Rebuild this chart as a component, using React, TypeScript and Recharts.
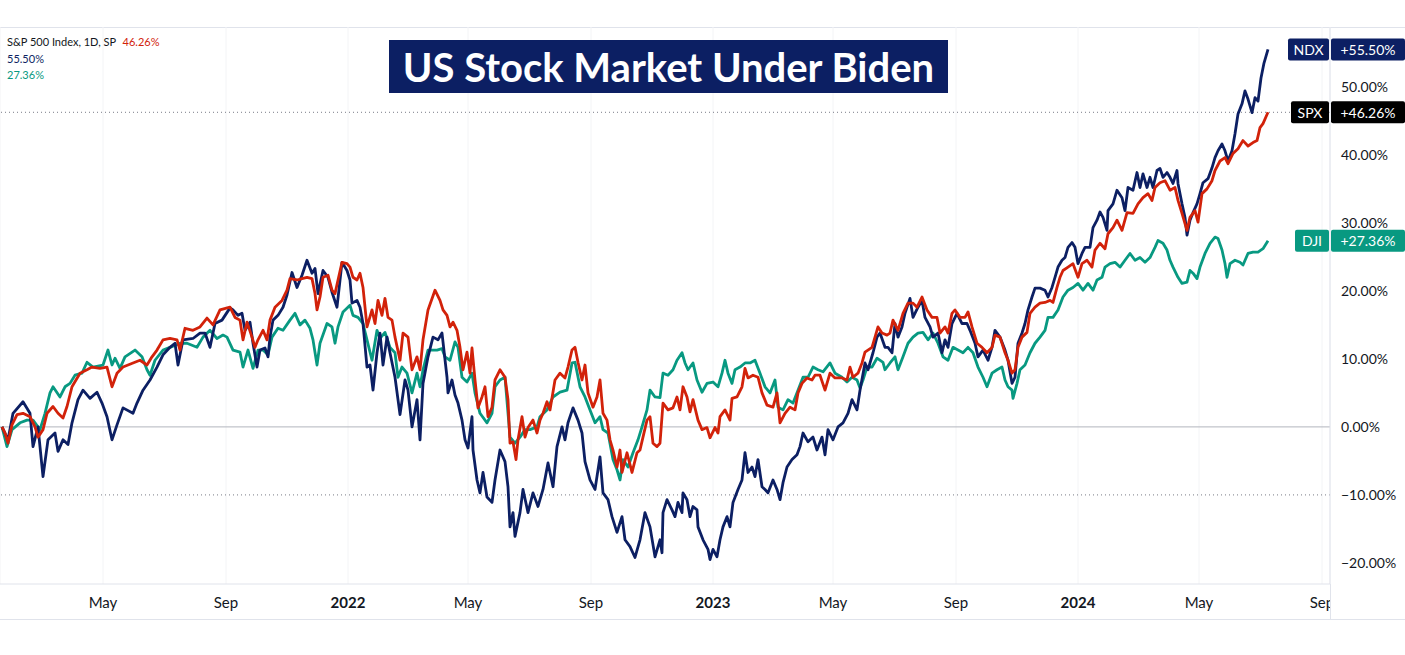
import React from 'react';
import { LineChart, Line, XAxis, YAxis, CartesianGrid, ReferenceLine } from 'recharts';

// percent change since 2021-01-20, sampled roughly weekly: [days since start, %]
const NDX_POINTS: [number, number][] = [
  [0, 0], [6, -1.9], [11, 2.0], [21, 3.7], [28, 2.0], [31, -2.9], [36, 0], [41, -7.3], [46, -1.9], [53, -0.9],
  [56, -3.6], [61, -1.9], [66, -2.6], [70, 0.6], [76, 4.0], [81, 5.4], [88, 4.2], [95, 5.1], [100, 3.5], [105, 1.5],
  [110, -1.9], [115, 0.3], [121, 2.8], [131, 2.0], [135, 3.5], [141, 5.4], [148, 6.9], [155, 8.8], [161, 10.6], [168, 11.7],
  [173, 12.3], [176, 9.1], [181, 12.8], [191, 13.0], [198, 13.8], [203, 13.8], [208, 11.7], [213, 15.2], [220, 15.7], [228, 17.5],
  [231, 17.2], [236, 16.4], [240, 16.7], [243, 14.2], [248, 15.4], [251, 12.3], [255, 8.8], [258, 11.3], [263, 11.6], [266, 10.3],
  [268, 13.2], [271, 15.7], [276, 16.4], [281, 17.6], [285, 19.4], [290, 22.7], [295, 20.5], [300, 22.3], [305, 24.5], [310, 22.6],
  [313, 23.3], [316, 19.6], [321, 23.0], [326, 22.0], [330, 19.8], [335, 17.6], [340, 24.2], [345, 23.0], [348, 21.6], [350, 18.2],
  [355, 18.6], [358, 17.6], [361, 15.2], [365, 8.8], [368, 9.1], [371, 5.4], [375, 10.9], [378, 13.8], [381, 9.1], [385, 13.2],
  [388, 10.9], [393, 7.3], [398, 1.8], [403, 6.9], [406, 5.4], [410, 0], [415, 4.0], [418, -1.9], [421, 6.4], [426, 10.3],
  [431, 13.2], [436, 12.8], [440, 13.8], [445, 7.3], [446, 5.0], [450, 6.9], [453, 4.7], [456, 3.5], [460, 1.0], [463, -1.9],
  [466, -3.1], [470, 1.5], [471, -3.4], [475, -7.8], [478, -9.7], [481, -6.7], [485, -10.3], [490, -11.1], [493, -7.8], [498, -3.4],
  [503, -5.1], [506, -8.8], [508, -14.7], [511, -12.6], [513, -16.1], [518, -12.6], [521, -9.2], [526, -12.6], [531, -9.7], [536, -11.7],
  [541, -9.2], [546, -5.3], [551, -8.8], [555, -2.9], [560, 0], [563, -1.9], [566, 0.6], [571, 2.8], [576, 1.0], [580, -0.9],
  [583, -5.1], [588, -7.8], [593, -9.2], [598, -4.4], [601, -9.7], [606, -10.7], [610, -13.2], [615, -15.5], [620, -13.2], [623, -16.6],
  [628, -17.6], [633, -19.2], [638, -16.6], [643, -12.6], [648, -14.7], [653, -19.1], [658, -16.6], [660, -18.5], [661, -12.6], [665, -10.7],
  [670, -12.2], [673, -13.2], [676, -11.1], [680, -12.6], [681, -9.7], [685, -10.7], [688, -13.2], [691, -11.7], [695, -12.2], [696, -14.7],
  [701, -16.6], [706, -18.0], [708, -19.5], [711, -18.0], [715, -19.1], [718, -16.6], [721, -14.7], [725, -13.2], [728, -14.7], [731, -11.1],
  [736, -9.2], [740, -7.8], [743, -3.8], [746, -6.7], [750, -5.9], [753, -7.3], [756, -4.8], [760, -8.8], [763, -9.2], [766, -9.7],
  [771, -7.8], [775, -9.2], [778, -10.7], [781, -8.2], [785, -5.9], [790, -4.8], [795, -4.1], [798, -2.9], [801, -0.9], [806, -2.2],
  [811, -1.5], [815, -3.4], [820, -1.5], [823, -4.1], [826, -0.4], [831, -1.9], [836, 0], [841, 0.6], [846, 2.0], [850, 4.0],
  [855, 2.5], [858, 5.4], [863, 9.4], [866, 8.4], [871, 10.9], [875, 13.2], [878, 13.8], [883, 11.7], [886, 11.7], [890, 10.9],
  [893, 15.2], [896, 13.2], [900, 14.7], [903, 16.7], [908, 18.9], [911, 16.1], [916, 17.6], [920, 18.6], [923, 16.1], [928, 14.7],
  [931, 13.2], [936, 13.8], [940, 10.9], [943, 12.8], [946, 11.7], [950, 15.2], [955, 16.7], [960, 15.2], [965, 15.2], [968, 14.2],
  [973, 12.3], [976, 10.3], [981, 11.3], [986, 9.8], [990, 11.7], [993, 14.2], [998, 13.2], [1003, 11.3], [1006, 9.8], [1010, 6.4],
  [1013, 7.3], [1016, 12.3], [1020, 13.8], [1023, 15.2], [1026, 17.2], [1030, 19.1], [1033, 20.4], [1038, 20.4], [1043, 20.1], [1046, 19.1],
  [1050, 20.5], [1053, 22.0], [1056, 23.5], [1060, 24.5], [1063, 24.9], [1066, 26.4], [1070, 27.1], [1073, 26.4], [1076, 24.0], [1080, 25.5],
  [1083, 26.4], [1088, 26.4], [1091, 29.3], [1095, 30.4], [1098, 31.6], [1101, 30.8], [1105, 28.9], [1106, 31.8], [1111, 32.8], [1115, 34.8],
  [1120, 33.7], [1123, 31.8], [1126, 35.2], [1131, 34.8], [1135, 37.4], [1138, 35.2], [1141, 37.2], [1145, 35.2], [1148, 36.7], [1151, 35.2],
  [1155, 37.7], [1158, 38.0], [1161, 36.7], [1165, 37.4], [1168, 36.7], [1171, 35.8], [1175, 37.7], [1176, 35.8], [1180, 32.8], [1183, 30.8],
  [1185, 28.2], [1188, 30.4], [1191, 31.5], [1195, 32.8], [1198, 34.3], [1201, 35.9], [1206, 36.5], [1210, 38.1], [1213, 39.6], [1216, 40.6],
  [1220, 41.6], [1223, 40.6], [1226, 39.1], [1230, 40.6], [1233, 43.1], [1236, 46.0], [1240, 47.5], [1243, 49.4], [1246, 48.2], [1250, 46.2],
  [1253, 48.4], [1256, 47.9], [1259, 51.3], [1262, 53.5], [1266, 55.5],
];

const SPX_POINTS: [number, number][] = [
  [0, 0], [3, -0.9], [6, -2.4], [10, 0.3], [15, 1.8], [21, 2.0], [28, 1.5], [33, 0], [36, -1.5], [41, -0.4],
  [45, 2.0], [51, 3.0], [56, 2.0], [61, 1.3], [65, 3.0], [70, 5.9], [78, 7.9], [85, 8.4], [90, 8.8], [98, 8.6],
  [105, 8.8], [110, 5.9], [115, 7.9], [121, 8.8], [131, 9.4], [138, 9.8], [145, 9.1], [150, 10.3], [155, 11.3], [161, 12.8],
  [168, 13.0], [175, 12.8], [178, 11.3], [183, 14.5], [191, 14.2], [198, 14.7], [205, 16.0], [211, 15.0], [218, 17.2], [228, 17.6],
  [233, 16.1], [238, 15.7], [241, 12.8], [245, 15.4], [250, 13.2], [253, 11.7], [256, 12.8], [261, 14.2], [265, 12.8], [268, 15.7],
  [273, 17.6], [280, 18.6], [285, 20.1], [288, 21.8], [295, 21.6], [300, 21.8], [305, 22.0], [310, 21.8], [313, 19.6], [315, 17.2],
  [318, 19.1], [321, 22.0], [326, 22.3], [330, 20.1], [333, 19.6], [336, 21.6], [340, 24.2], [345, 24.0], [348, 23.5], [351, 22.0],
  [355, 21.6], [358, 22.6], [361, 20.5], [365, 14.7], [370, 17.2], [373, 15.2], [376, 18.6], [380, 16.4], [383, 18.9], [386, 16.1],
  [390, 15.7], [393, 13.2], [398, 9.8], [401, 13.8], [406, 13.2], [410, 8.4], [415, 10.3], [418, 8.4], [421, 12.8], [426, 17.2],
  [433, 20.1], [438, 18.6], [441, 17.2], [445, 16.4], [448, 14.7], [451, 15.4], [455, 14.2], [458, 11.7], [461, 8.4], [465, 11.0],
  [468, 7.9], [470, 11.6], [473, 6.9], [476, 2.8], [480, 4.4], [483, 5.9], [486, 1.5], [490, 2.9], [493, 6.9], [498, 8.4],
  [503, 7.3], [506, 4.0], [508, -2.4], [511, -2.2], [514, -4.8], [516, -1.9], [520, 1.5], [523, -1.5], [526, -0.1], [531, 1.0],
  [535, -0.9], [538, 1.0], [541, 2.0], [545, 3.7], [548, 2.5], [553, 6.9], [558, 7.9], [563, 7.2], [566, 8.8], [570, 11.3],
  [573, 11.7], [576, 9.5], [580, 6.9], [583, 9.1], [586, 5.0], [591, 2.9], [595, 4.4], [598, 6.9], [601, 2.0], [605, 1.0],
  [608, -1.9], [611, -3.4], [615, -5.9], [618, -3.4], [620, -6.7], [625, -3.8], [630, -6.7], [635, -3.8], [638, -3.4], [641, -1.5],
  [645, 1.0], [648, 1.5], [651, -2.4], [655, -2.9], [658, -2.4], [661, 3.5], [666, 2.5], [671, 2.8], [675, 4.4], [678, 2.5],
  [681, 5.9], [685, 4.4], [688, 2.2], [691, 4.0], [696, 1.0], [700, -0.4], [705, -0.1], [708, -1.6], [713, -0.1], [716, -0.9],
  [718, 1.5], [723, 2.5], [728, 1.0], [730, 4.2], [735, 4.4], [740, 5.9], [743, 8.6], [746, 7.2], [751, 7.6], [756, 7.3],
  [760, 5.0], [765, 3.2], [771, 2.9], [775, 5.0], [778, 0.6], [783, 2.0], [788, 2.9], [793, 2.5], [796, 5.0], [800, 6.4],
  [805, 7.2], [810, 6.9], [813, 7.6], [818, 7.6], [823, 5.4], [828, 7.9], [833, 7.2], [840, 7.2], [845, 6.9], [848, 8.8],
  [851, 7.3], [856, 7.9], [860, 9.4], [863, 11.0], [870, 11.7], [873, 13.2], [876, 14.7], [880, 13.8], [885, 13.5], [888, 13.8],
  [891, 15.7], [896, 14.2], [901, 16.7], [906, 18.2], [911, 18.2], [915, 17.6], [920, 19.1], [925, 17.2], [930, 16.1], [935, 16.1],
  [938, 13.8], [943, 14.7], [946, 13.8], [950, 16.7], [953, 17.2], [958, 16.1], [963, 16.1], [966, 16.9], [970, 14.7], [975, 12.3],
  [980, 11.7], [985, 10.9], [990, 11.7], [993, 13.5], [998, 13.2], [1003, 10.9], [1006, 9.8], [1010, 7.9], [1013, 8.4], [1016, 11.7],
  [1020, 13.2], [1025, 13.9], [1028, 16.7], [1033, 17.6], [1038, 18.2], [1043, 18.3], [1048, 18.6], [1051, 18.3], [1055, 20.5], [1058, 22.0],
  [1061, 23.0], [1066, 23.5], [1071, 24.0], [1076, 22.0], [1080, 24.0], [1085, 24.5], [1090, 23.5], [1093, 26.0], [1098, 27.0], [1103, 26.2],
  [1106, 28.4], [1111, 29.3], [1115, 30.4], [1120, 28.9], [1125, 31.5], [1131, 31.4], [1136, 32.8], [1141, 33.7], [1146, 34.3], [1150, 33.3],
  [1153, 35.2], [1158, 35.9], [1163, 36.2], [1168, 34.8], [1173, 35.2], [1176, 33.3], [1180, 31.4], [1183, 29.9], [1185, 28.9], [1188, 30.8],
  [1193, 31.8], [1196, 30.1], [1200, 34.3], [1205, 35.0], [1210, 36.2], [1213, 37.7], [1218, 39.1], [1223, 39.6], [1226, 38.7], [1231, 40.2],
  [1236, 40.9], [1241, 42.1], [1246, 41.3], [1251, 41.8], [1255, 42.1], [1258, 44.0], [1261, 44.6], [1266, 46.26],
];

const DJI_POINTS: [number, number][] = [
  [0, 0], [5, -2.9], [10, -0.4], [18, 0.6], [25, 1.0], [31, 1.0], [38, -0.4], [43, 2.0], [48, 5.0], [51, 5.9],
  [58, 4.4], [63, 5.9], [68, 6.4], [73, 7.6], [80, 7.9], [85, 9.5], [91, 8.8], [101, 9.1], [106, 11.3], [110, 9.1],
  [113, 10.1], [118, 8.6], [123, 10.3], [133, 11.3], [140, 10.3], [145, 8.4], [148, 7.6], [153, 9.8], [161, 11.3], [168, 11.7],
  [178, 12.3], [185, 12.3], [195, 11.7], [201, 13.2], [208, 14.2], [215, 13.0], [221, 13.5], [225, 13.2], [231, 11.3], [238, 11.0],
  [241, 8.8], [246, 11.3], [251, 8.6], [256, 11.3], [261, 11.3], [266, 10.6], [270, 13.2], [276, 14.5], [281, 14.2], [288, 15.7],
  [293, 16.7], [298, 15.0], [303, 15.7], [308, 14.5], [311, 12.8], [315, 9.1], [318, 12.3], [325, 15.2], [330, 14.7], [333, 12.3],
  [336, 14.7], [341, 16.9], [348, 17.9], [351, 16.4], [356, 16.1], [361, 15.2], [365, 12.8], [370, 9.8], [375, 14.2], [378, 13.0],
  [383, 13.9], [388, 11.7], [393, 10.9], [396, 7.3], [400, 8.8], [405, 7.9], [410, 5.0], [415, 7.9], [418, 5.9], [421, 8.4],
  [426, 11.3], [435, 11.3], [440, 11.5], [443, 10.3], [448, 9.8], [453, 12.5], [456, 11.7], [460, 7.3], [465, 6.6], [470, 7.9],
  [473, 5.0], [478, 2.0], [485, 0.6], [490, 2.0], [493, 5.9], [498, 6.9], [503, 7.3], [508, -1.5], [513, -2.4], [518, -1.5],
  [523, -0.4], [528, -0.4], [535, 0], [538, 1.5], [545, 2.5], [551, 4.4], [558, 5.1], [565, 5.4], [570, 9.4], [573, 9.5],
  [578, 5.9], [583, 4.4], [588, 2.5], [593, 0.6], [598, 1.5], [601, -0.4], [606, -0.9], [611, -4.8], [615, -6.3], [618, -7.8],
  [621, -4.8], [626, -5.9], [631, -3.8], [636, -1.9], [640, 0], [645, 2.5], [648, 5.4], [653, 4.4], [658, 4.3], [661, 7.9],
  [666, 7.6], [671, 8.4], [675, 9.8], [680, 10.9], [683, 9.4], [686, 8.4], [691, 9.4], [695, 6.9], [700, 5.1], [705, 6.4],
  [711, 6.6], [716, 5.9], [720, 7.9], [723, 9.8], [726, 7.9], [730, 6.4], [733, 8.4], [738, 8.8], [743, 9.4], [748, 9.4],
  [753, 9.8], [758, 7.9], [763, 5.9], [768, 5.0], [773, 6.9], [776, 2.9], [781, 2.5], [786, 4.0], [791, 3.5], [796, 5.4],
  [801, 7.3], [806, 7.3], [811, 8.8], [816, 8.4], [821, 8.1], [828, 9.4], [833, 7.9], [840, 7.3], [845, 6.6], [850, 7.3],
  [855, 6.9], [858, 5.7], [861, 6.9], [865, 8.8], [870, 8.8], [875, 10.1], [881, 9.5], [883, 8.4], [888, 9.4], [893, 10.3],
  [896, 8.4], [901, 10.3], [906, 12.3], [911, 13.2], [916, 13.8], [921, 13.9], [926, 12.8], [931, 13.8], [936, 12.3], [941, 10.3],
  [946, 9.8], [951, 11.7], [956, 11.3], [961, 10.9], [966, 11.7], [971, 10.9], [976, 8.8], [981, 7.3], [985, 5.9], [990, 7.9],
  [995, 8.4], [1000, 8.8], [1003, 6.9], [1006, 5.9], [1010, 5.4], [1011, 4.2], [1015, 6.4], [1018, 8.4], [1023, 9.1], [1028, 10.9],
  [1033, 12.3], [1038, 13.2], [1043, 14.2], [1046, 16.1], [1051, 16.1], [1056, 17.2], [1061, 19.1], [1066, 20.1], [1071, 20.5], [1076, 21.1],
  [1081, 20.1], [1086, 21.1], [1091, 20.1], [1095, 21.6], [1100, 22.0], [1103, 23.5], [1108, 24.0], [1113, 24.2], [1118, 23.5], [1123, 24.5],
  [1128, 25.5], [1133, 24.5], [1138, 24.9], [1143, 24.2], [1148, 24.9], [1153, 26.4], [1156, 27.4], [1161, 27.0], [1165, 26.0], [1168, 24.5],
  [1171, 23.5], [1176, 22.0], [1180, 21.1], [1185, 21.3], [1188, 23.0], [1191, 22.6], [1195, 21.8], [1198, 23.5], [1203, 25.5], [1208, 27.0],
  [1213, 27.9], [1216, 27.7], [1220, 26.0], [1223, 24.0], [1225, 22.0], [1228, 24.0], [1233, 24.5], [1238, 24.2], [1241, 23.8], [1246, 25.5],
  [1251, 25.7], [1256, 25.7], [1261, 26.2], [1266, 27.36],
];

const Y_TICKS = [-20, -10, 0, 10, 20, 30, 40, 50];
const X_TICK_MONTHS: [number, number][] = [
  [2021, 4], [2021, 8], [2022, 0], [2022, 4], [2022, 8], [2023, 0],
  [2023, 4], [2023, 8], [2024, 0], [2024, 4], [2024, 8],
];
const MONTH_NAMES = ['Jan', 'Feb', 'Mar', 'Apr', 'May', 'Jun', 'Jul', 'Aug', 'Sep', 'Oct', 'Nov', 'Dec'];

const NAVY = '#0c1f63';
const RED = '#d2220a';
const GREEN = '#089981';
const TEXT = '#131722';
const BORDER = '#e0e3eb';
const FONT = "Lato, 'Open Sans', sans-serif";

const BASE = Date.UTC(2021, 0, 20);
const DAY = 86400000;
const PLOT_RIGHT = 1330;

const toRows = (pts: [number, number][]) => pts.map(([d, v]) => ({ t: BASE + d * DAY, v }));
const ndxData = toRows(NDX_POINTS);
const spxData = toRows(SPX_POINTS);
const djiData = toRows(DJI_POINTS);
const xTicks = X_TICK_MONTHS.map(([y, m]) => Date.UTC(y, m, 1));

const fmtPct = (v: number) => `${v < 0 ? '\u2212' : ''}${Math.abs(v).toFixed(2)}%`;

const MonthTick = ({ x, y, payload, index }: any) => {
  const d = new Date(payload.value);
  const m = d.getUTCMonth();
  const isYear = m === 0;
  const id = `xclip-${index}`;
  return (
    <g>
      <defs>
        <clipPath id={id}>
          <rect x={0} y={y - 20} width={PLOT_RIGHT} height={40} />
        </clipPath>
      </defs>
      <text
        x={x}
        y={y}
        dy={10}
        textAnchor="middle"
        dominantBaseline="central"
        fontSize={15}
        fontWeight={isYear ? 700 : 400}
        fill={TEXT}
        fontFamily={FONT}
        clipPath={`url(#${id})`}
      >
        {isYear ? String(d.getUTCFullYear()) : MONTH_NAMES[m]}
      </text>
    </g>
  );
};

const PctTick = ({ x, y, payload }: any) => (
  <text x={x + 3} y={y} dominantBaseline="central" fontSize={14} fill={TEXT} fontFamily={FONT}>
    {fmtPct(payload.value)}
  </text>
);

const Badge = ({ viewBox, name, value, color, boxW }: any) => {
  if (!viewBox) return null;
  const right = viewBox.x + viewBox.width;
  const y = viewBox.y;
  return (
    <g>
      <rect x={right - boxW - 1} y={y - 11} width={boxW} height={22} rx={2} fill={color} />
      <text x={right - 1 - boxW / 2} y={y} textAnchor="middle" dominantBaseline="central" fontSize={14} fill="#fff" fontFamily={FONT}>
        {name}
      </text>
      <rect x={right + 1} y={y - 11} width={74} height={22} rx={2} fill={color} />
      <text x={right + 38} y={y} textAnchor="middle" dominantBaseline="central" fontSize={14} fill="#fff" fontFamily={FONT}>
        {`+${value.toFixed(2)}%`}
      </text>
    </g>
  );
};

const ndxLast = NDX_POINTS[NDX_POINTS.length - 1][1];
const spxLast = SPX_POINTS[SPX_POINTS.length - 1][1];
const djiLast = DJI_POINTS[DJI_POINTS.length - 1][1];

const lineProps = {
  dataKey: 'v',
  type: 'linear' as const,
  strokeWidth: 2.8,
  strokeLinejoin: 'round' as const,
  dot: false,
  isAnimationActive: false,
};

export default function App() {
  return (
    <div style={{ position: 'absolute', left: 0, top: 0, width: 1405, height: 655, background: '#fff', fontFamily: FONT }}>
      {/* pane frame */}
      <div style={{ position: 'absolute', left: 0, top: 27, width: 1405, height: 1, background: BORDER }} />
      <div style={{ position: 'absolute', left: 0, top: 619, width: 1405, height: 1, background: BORDER }} />
      <div style={{ position: 'absolute', left: PLOT_RIGHT, top: 584, width: 1, height: 36, background: BORDER }} />

      <LineChart width={1405} height={655} margin={{ top: 27, right: 0, bottom: 35, left: 0 }}>
        <CartesianGrid horizontal={false} stroke="#f3f4f6" />
        <XAxis
          dataKey="t"
          type="number"
          domain={[BASE - 2 * DAY, BASE + 1328 * DAY]}
          ticks={xTicks}
          tick={<MonthTick />}
          tickLine={false}
          axisLine={{ stroke: BORDER }}
          height={36}
          allowDataOverflow
        />
        <YAxis
          orientation="right"
          type="number"
          domain={[-23.1, 58.8]}
          ticks={Y_TICKS}
          tick={<PctTick />}
          tickLine={false}
          axisLine={{ stroke: BORDER }}
          width={75}
          allowDataOverflow
        />
        <ReferenceLine y={0} stroke="#b2b5be" strokeWidth={1} />
        <ReferenceLine y={-10} stroke="#787b86" strokeDasharray="1 3" strokeWidth={1} />
        <ReferenceLine y={spxLast} stroke="#787b86" strokeDasharray="1 3" strokeWidth={1} />

        <Line data={djiData} stroke={GREEN} {...lineProps} />
        <Line data={ndxData} stroke={NAVY} {...lineProps} />
        <Line data={spxData} stroke={RED} {...lineProps} />

        <ReferenceLine y={ndxLast} stroke="none" label={<Badge name="NDX" value={ndxLast} color={NAVY} boxW={41} />} />
        <ReferenceLine y={spxLast} stroke="none" label={<Badge name="SPX" value={spxLast} color="#000" boxW={38} />} />
        <ReferenceLine y={djiLast} stroke="none" label={<Badge name="DJI" value={djiLast} color={GREEN} boxW={34} />} />
      </LineChart>

      {/* legend */}
      <div style={{ position: 'absolute', left: 7, top: 34, fontSize: 11, lineHeight: '16.5px', color: TEXT }}>
        <div>
          S&amp;P 500 Index, 1D, SP <span style={{ color: RED, marginLeft: 4 }}>{spxLast.toFixed(2)}%</span>
        </div>
        <div style={{ color: NAVY }}>{ndxLast.toFixed(2)}%</div>
        <div style={{ color: GREEN }}>{djiLast.toFixed(2)}%</div>
      </div>

      {/* title */}
      <div
        style={{
          position: 'absolute',
          left: 389,
          top: 40,
          width: 559,
          height: 53,
          background: NAVY,
          color: '#fff',
          fontSize: 40,
          fontWeight: 700,
          display: 'flex',
          alignItems: 'center',
          justifyContent: 'center',
        }}
      >
        US Stock Market Under Biden
      </div>
    </div>
  );
}
